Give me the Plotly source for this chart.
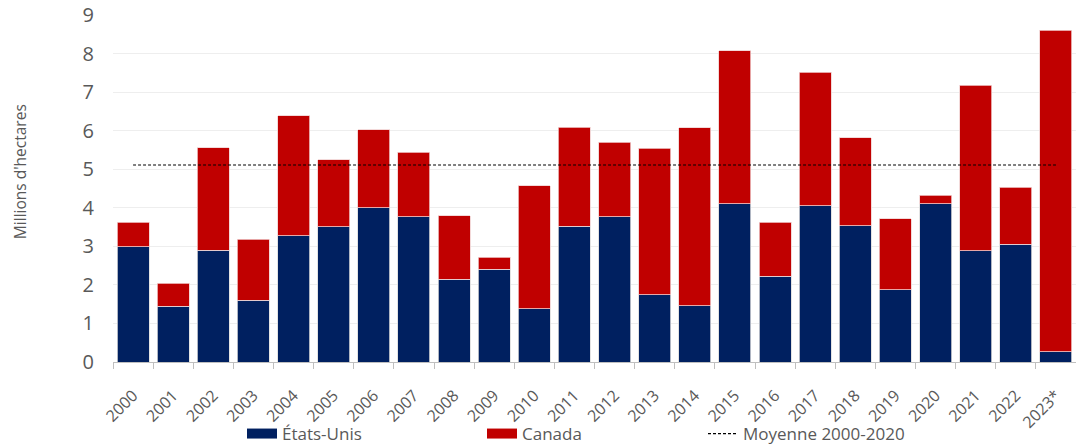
import plotly.graph_objects as go

years = ["2000", "2001", "2002", "2003", "2004", "2005", "2006", "2007", "2008", "2009",
         "2010", "2011", "2012", "2013", "2014", "2015", "2016", "2017", "2018", "2019",
         "2020", "2021", "2022", "2023*"]
etats_unis = [2.99, 1.45, 2.90, 1.60, 3.28, 3.51, 4.00, 3.77, 2.14, 2.40,
              1.38, 3.52, 3.77, 1.74, 1.46, 4.10, 2.22, 4.05, 3.54, 1.88,
              4.10, 2.88, 3.05, 0.27]
canada = [0.64, 0.59, 2.66, 1.58, 3.11, 1.73, 2.03, 1.67, 1.65, 0.32,
          3.19, 2.57, 1.93, 3.81, 4.61, 3.97, 1.41, 3.47, 2.28, 1.84,
          0.23, 4.30, 1.48, 8.34]
moyenne = 5.11
y_ticks = [0, 1, 2, 3, 4, 5, 6, 7, 8, 9]

NAVY = "#002060"
RED = "#C00000"
GREY = "#595959"
FONT = "Open Sans"

fig = go.Figure()
fig.add_trace(go.Bar(x=years, y=etats_unis, name="États-Unis", marker_color=NAVY,
                     marker_line=dict(color="#dcdcdc", width=0.8), showlegend=False))
fig.add_trace(go.Bar(x=years, y=canada, name="Canada", marker_color=RED,
                     marker_line=dict(color="#f0d0d0", width=0.8), showlegend=False))
fig.add_trace(go.Scatter(x=years, y=[moyenne] * len(years), mode="lines",
                         name="Moyenne 2000-2020",
                         line=dict(color="black", width=1.2, dash="3px,2px"),
                         showlegend=False))

# legend-only entries
fig.add_trace(go.Scatter(x=[None], y=[None], mode="lines", name="États-Unis",
                         line=dict(color=NAVY, width=10), legend="legend"))
fig.add_trace(go.Scatter(x=[None], y=[None], mode="lines", name="Canada",
                         line=dict(color=RED, width=10), legend="legend2"))
fig.add_trace(go.Scatter(x=[None], y=[None], mode="lines", name="Moyenne 2000-2020",
                         line=dict(color="black", width=1.2, dash="3px,2px"), legend="legend3"))

leg_common = dict(orientation="h", xref="container", yref="container", xanchor="left",
                  yanchor="middle", font=dict(family=FONT, size=17, color=GREY),
                  bgcolor="rgba(0,0,0,0)", itemwidth=30)

fig.update_layout(
    width=1076, height=445,
    margin=dict(l=113, r=0, t=15, b=83, autoexpand=False),
    paper_bgcolor="white", plot_bgcolor="white",
    barmode="stack", bargap=0.2,
    font=dict(family=FONT, color=GREY),
    legend=dict(x=242 / 1076, y=1 - 434 / 445, **leg_common),
    legend2=dict(x=482 / 1076, y=1 - 434 / 445, **leg_common),
    legend3=dict(x=703 / 1076, y=1 - 434 / 445, **leg_common),
    xaxis=dict(
        type="category", tickangle=-45, tickfont=dict(family=FONT, size=16, color=GREY),
        showline=True, linecolor="#bfbfbf", linewidth=1,
        ticks="outside", tickson="boundaries", ticklen=6, tickcolor="#bfbfbf",
        showgrid=False, ticklabelstandoff=17, automargin=False,
    ),
    yaxis=dict(
        range=[0, 9], tickvals=y_ticks, tickfont=dict(family=FONT, size=20, color=GREY),
        showgrid=True, gridcolor="#eeeeee", gridwidth=1, zeroline=False,
        ticks="", ticklabelstandoff=18, automargin=False,
    ),
    annotations=[dict(
        text="Millions d'hectares", textangle=-90, showarrow=False,
        xref="paper", yref="paper", x=(20 - 113) / 963, y=(361.7 - 172) / 346.7,
        xanchor="center", yanchor="middle",
        font=dict(family=FONT, size=15.5, color=GREY),
    )],
)

fig.write_html("out.html", config={"displayModeBar": False},
               post_script="document.body.style.margin='0';document.body.style.overflow='hidden';")
